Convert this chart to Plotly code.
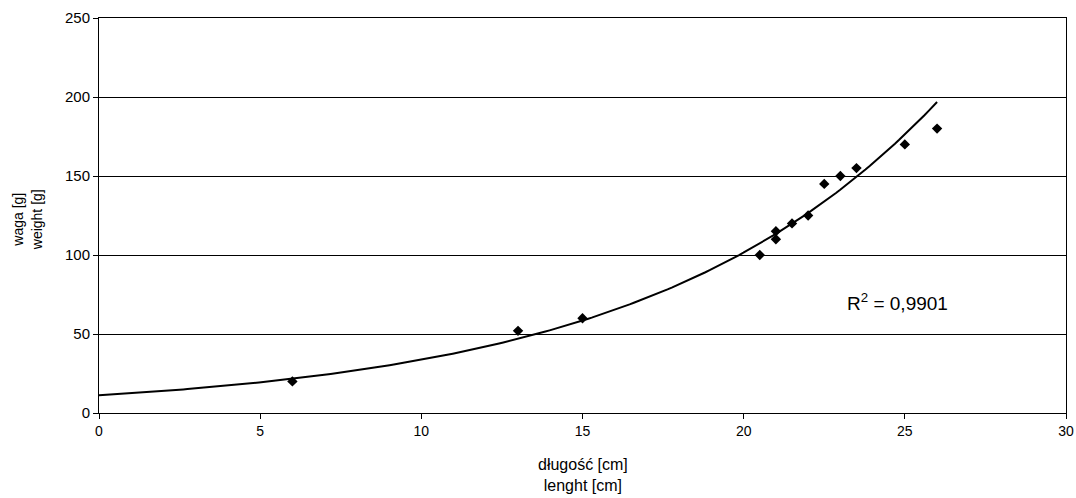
import numpy as np
import plotly.graph_objects as go

# data
length_cm = [6, 13, 15, 20.5, 21, 21, 21.5, 22, 22.5, 23, 23.5, 25, 26]
weight_g = [20, 52, 60, 100, 110, 115, 120, 125, 145, 150, 155, 170, 180]
x_ticks = [0, 5, 10, 15, 20, 25, 30]
y_ticks = [0, 50, 100, 150, 200, 250]
r2_label = "R<sup>2</sup> = 0,9901"
x_title = "długość [cm]<br>lenght [cm]"
y_title = "waga [g]<br>weight [g]"

# exponential trend (log-linear fit, like a spreadsheet trendline)
b, ln_a = np.polyfit(np.array(length_cm), np.log(np.array(weight_g)), 1)
a = np.exp(ln_a)
xt = np.linspace(0, max(length_cm), 200)
yt = a * np.exp(b * xt)

fig = go.Figure()
fig.add_trace(go.Scatter(x=xt, y=yt, mode="lines",
                         line=dict(color="black", width=2), hoverinfo="skip"))
fig.add_trace(go.Scatter(x=length_cm, y=weight_g, mode="markers",
                         marker=dict(symbol="diamond", color="black", size=8)))

fig.add_annotation(x=23.15, y=70.5, text=r2_label, showarrow=False, xanchor="left",
                   font=dict(size=19, color="black", family="Liberation Sans"))

fig.add_annotation(xref="paper", yref="paper", x=0.5, y=-0.105, yanchor="top",
                   text=x_title, showarrow=False,
                   font=dict(size=16, color="black", family="Liberation Sans"))
fig.add_annotation(xref="paper", yref="paper", x=-0.054, y=0.49, xanchor="right",
                   text=y_title, showarrow=False, textangle=-90,
                   font=dict(size=14, color="black", family="Liberation Sans"))

fig.update_layout(
    width=1076, height=498,
    margin=dict(l=99, r=10, t=18, b=85, autoexpand=False),
    paper_bgcolor="white", plot_bgcolor="white",
    showlegend=False,
    font=dict(family="Liberation Sans", color="black", size=14),
    xaxis=dict(range=[0, 30], tickvals=x_ticks, showgrid=False, zeroline=False,
               showline=True, linecolor="black", linewidth=1, mirror=True,
               ticks="outside", ticklen=5, tickcolor="black", automargin=False,
               tickfont=dict(size=14)),
    yaxis=dict(range=[0, 250], tickvals=y_ticks, showgrid=True, gridcolor="black", gridwidth=1,
               zeroline=False, showline=True, linecolor="black", linewidth=1, mirror=True,
               ticks="outside", ticklen=5, tickcolor="black", automargin=False,
               tickfont=dict(size=15)),
)

fig.write_html("out.html", config={"displayModeBar": False},
               post_script="document.body.style.margin='0';document.body.style.overflow='hidden';")
